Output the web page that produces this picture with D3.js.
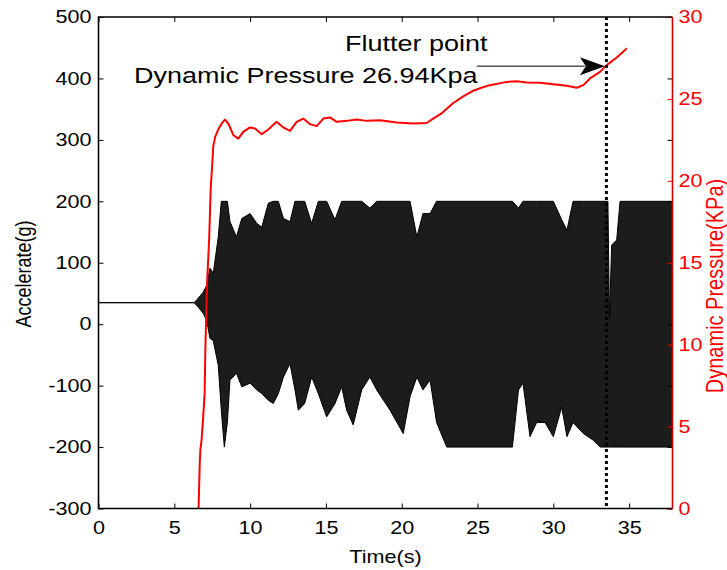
<!DOCTYPE html>
<html>
<head>
<meta charset="utf-8">
<script src="https://cdn.jsdelivr.net/npm/d3@7"></script>
<style>
  body { margin: 0; background: #fff; }
  svg { display: block; font-family: "Liberation Sans", Arial, sans-serif; }
</style>
</head>
<body>
<div id="chart"></div>
<script>
// tick values
const timeTicks = [0, 5, 10, 15, 20, 25, 30, 35];
const accelTicks = [-300, -200, -100, 0, 100, 200, 300, 400, 500];
const pressureTicks = [0, 5, 10, 15, 20, 25, 30];

// accelerometer envelope: [time s, upper g, lower g]
const accelEnvelope = [
    [0, 35, 35], [6.3, 35, 35], [6.5, 40, 30], [6.7, 46, 24], [6.9, 52, 18],
    [7.14, 63, 6], [7.35, 91, -23], [7.57, 83, -27], [7.9, 142, -67], [8.1, 200, -140],
    [8.3, 200, -200], [8.5, 200, -160], [8.67, 167, -91], [9.1, 142, -80], [9.45, 172, -102],
    [10.0, 180, -96], [10.44, 164, -107], [10.77, 158, -113], [11.2, 197, -124], [11.53, 200, -129],
    [11.86, 200, -113], [12.2, 172, -86], [12.63, 167, -64], [12.96, 200, -107], [13.18, 200, -140],
    [13.6, 200, -129], [14.06, 164, -86], [14.5, 200, -113], [15.05, 200, -151], [15.6, 170, -129],
    [16.04, 200, -102], [16.37, 200, -140], [16.8, 200, -164], [17.36, 200, -107], [17.9, 189, -86],
    [18.35, 200, -107], [19.23, 200, -140], [20.1, 200, -178], [20.55, 200, -118], [21.0, 142, -86],
    [21.4, 180, -107], [21.87, 180, -91], [22.3, 200, -160], [22.97, 200, -200], [27.3, 200, -200],
    [27.7, 189, -107], [28.0, 200, -96], [28.46, 200, -183], [28.9, 200, -160], [29.45, 200, -160],
    [30.0, 200, -183], [30.55, 170, -135], [30.9, 153, -183], [31.3, 200, -160], [31.98, 200, -178],
    [32.64, 200, -189], [33.1, 200, -200], [33.6, 200, -200], [33.7, 10, -200], [33.85, 129, -200],
    [34.18, 137, -200], [34.4, 200, -200], [37.86, 200, -200]
];

// dynamic pressure trace: [time s, KPa]
const pressure = [
    [6.60, 0], [6.68, 2.8], [6.72, 3.6], [6.80, 4.2], [6.90, 5.5], [7.00, 7.0], [7.05, 9.8],
    [7.15, 13.5], [7.30, 16.5], [7.40, 19.5], [7.50, 21.0], [7.57, 22.1], [7.70, 22.7], [7.88, 23.1],
    [8.13, 23.5], [8.34, 23.74], [8.56, 23.5], [8.89, 22.8], [9.22, 22.58], [9.55, 22.99],
    [9.99, 23.26], [10.32, 23.2], [10.77, 22.85], [11.2, 23.13], [11.75, 23.6], [12.19, 23.26],
    [12.63, 23.05], [13.07, 23.6], [13.51, 23.8], [13.95, 23.46], [14.39, 23.34], [14.83, 23.8],
    [15.27, 23.87], [15.71, 23.6], [16.37, 23.66], [17.03, 23.74], [17.69, 23.66], [18.57, 23.7],
    [19.67, 23.56], [20.77, 23.5], [21.65, 23.53], [22.08, 23.8], [22.6, 24.1], [23.4, 24.75],
    [24.06, 25.15], [24.72, 25.5], [25.3, 25.7], [25.82, 25.84], [26.93, 26.04], [27.59, 26.08],
    [28.25, 26.0], [29.12, 25.98], [30.0, 25.9], [30.88, 25.8], [31.54, 25.68], [31.98, 25.84],
    [32.42, 26.25], [33.08, 26.65], [33.52, 27.06], [34.18, 27.53], [34.73, 27.98], [34.84, 28.1]
];

const flutterTime = 33.5;
const flutterPressure = 26.94;
const arrowStartTime = 24.95;

const width = 727, height = 570;
const plot = { left: 98.5, right: 672.5, top: 17, bottom: 508.5 };
const stretch = 1.2;   // the source figure is widened horizontally

const svg = d3.select('#chart')
    .append('svg')
    .attr('width', width)
    .attr('height', height);

const x = d3.scaleLinear().domain([0, 37.86]).range([plot.left, plot.right]);
const yL = d3.scaleLinear().domain([-300, 500]).range([plot.bottom, plot.top]);
const yR = d3.scaleLinear().domain([0, 30]).range([plot.bottom, plot.top]);
const plain = d => String(d);   // hyphen-minus like the original, not U+2212

// Accelerometer signal (dense oscillation drawn as its envelope)
svg.append('path')
    .datum(accelEnvelope)
    .attr('fill', '#1c1c1c')
    .attr('stroke', '#000')
    .attr('stroke-width', 1)
    .attr('d', d3.area()
        .x(d => x(d[0]))
        .y0(d => yL(d[2]))
        .y1(d => yL(d[1])));

// Dynamic pressure
svg.append('path')
    .datum(pressure)
    .attr('fill', 'none')
    .attr('stroke', '#ff0000')
    .attr('stroke-width', 2)
    .attr('stroke-linejoin', 'round')
    .attr('d', d3.line().x(d => x(d[0])).y(d => yR(d[1])));

// Axes
function styleAxis(g, color) {
    g.attr('font-size', 18)
        .attr('font-family', '"Liberation Sans", Arial, sans-serif');
    g.select('.domain').remove();
    g.selectAll('.tick line').attr('stroke', color).attr('stroke-width', 1);
    g.selectAll('.tick text').attr('fill', color);
}

const bottomAxis = svg.append('g')
    .attr('transform', `translate(0,${plot.bottom})`)
    .call(d3.axisBottom(x).tickValues(timeTicks).tickFormat(plain)
        .tickSize(-5).tickSizeOuter(0).tickPadding(13))
    .call(g => styleAxis(g, '#000'));
bottomAxis.selectAll('.tick text').attr('transform', `scale(${stretch},1)`);

svg.append('g')
    .attr('transform', `translate(0,${plot.top})`)
    .call(d3.axisTop(x).tickValues(timeTicks).tickSize(-5).tickSizeOuter(0).tickFormat(''))
    .call(g => styleAxis(g, '#000'));

const leftAxis = svg.append('g')
    .attr('transform', `translate(${plot.left},0)`)
    .call(d3.axisLeft(yL).tickValues(accelTicks).tickFormat(plain)
        .tickSize(-5).tickSizeOuter(0).tickPadding(7))
    .call(g => styleAxis(g, '#000'));
leftAxis.selectAll('.tick text')
    .attr('x', -7 / stretch)
    .attr('transform', `scale(${stretch},1)`);

svg.append('g')
    .attr('transform', `translate(${plot.right},0)`)
    .call(d3.axisRight(yL).tickValues(accelTicks).tickSize(-5).tickSizeOuter(0).tickFormat(''))
    .call(g => styleAxis(g, '#000'));

const rightAxis = svg.append('g')
    .attr('transform', `translate(${plot.right},0)`)
    .call(d3.axisRight(yR).tickValues(pressureTicks).tickFormat(plain)
        .tickSize(-5).tickSizeOuter(0).tickPadding(6))
    .call(g => styleAxis(g, '#ff0000'));
rightAxis.selectAll('.tick text')
    .attr('x', 6 / stretch)
    .attr('transform', `scale(${stretch},1)`);

// Frame
svg.append('path')
    .attr('fill', 'none')
    .attr('stroke', '#000')
    .attr('stroke-width', 1.6)
    .attr('d', `M${plot.right},${plot.top}H${plot.left}V${plot.bottom}H${plot.right}`);
svg.append('line')
    .attr('x1', plot.right).attr('x2', plot.right)
    .attr('y1', plot.top).attr('y2', plot.bottom)
    .attr('stroke', '#cc0000')
    .attr('stroke-width', 1.6);

// Flutter marker
svg.append('line')
    .attr('x1', x(flutterTime)).attr('x2', x(flutterTime))
    .attr('y1', plot.top).attr('y2', plot.bottom)
    .attr('stroke', '#000')
    .attr('stroke-width', 3)
    .attr('stroke-dasharray', '3,3');

const ay = yR(flutterPressure) - 1;
const tipX = x(flutterTime) - 1.5;
svg.append('line')
    .attr('x1', x(arrowStartTime)).attr('x2', tipX - 20)
    .attr('y1', ay).attr('y2', ay)
    .attr('stroke', '#000')
    .attr('stroke-width', 1);
svg.append('path')
    .attr('fill', '#000')
    .attr('d', `M${tipX},${ay}L${tipX - 25},${ay - 9}L${tipX - 19},${ay}L${tipX - 25},${ay + 9}Z`);

// Texts
function addText(tx, ty, str, opts = {}) {
    const g = svg.append('g').attr('transform', `translate(${tx},${ty})${opts.rotate ? ' rotate(-90)' : ''}`);
    g.append('text')
        .attr('transform', opts.rotate ? `scale(1,${stretch})` : `scale(${stretch},1)`)
        .attr('text-anchor', opts.anchor || 'start')
        .attr('font-size', opts.size || 18)
        .attr('fill', opts.color || '#000')
        .text(str);
}

addText(345, 51, 'Flutter point', { size: 22.5 });
addText(134, 83, 'Dynamic Pressure 26.94Kpa', { size: 22.5 });
addText(385.5, 563, 'Time(s)', { anchor: 'middle' });
addText(31, 274, 'Accelerate(g)', { anchor: 'middle', rotate: true });
addText(723, 286, 'Dynamic Pressure(KPa)', { anchor: 'middle', rotate: true, color: '#ff0000', size: 20 });
</script>
</body>
</html>
